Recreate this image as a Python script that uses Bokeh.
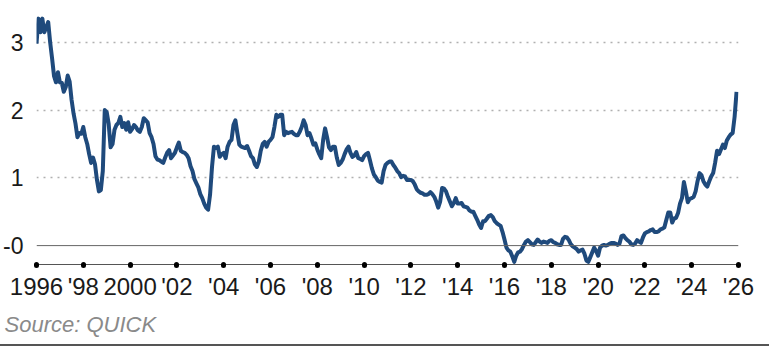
import pandas as pd
from bokeh.plotting import figure
from bokeh.models import Range1d, FixedTicker, Span, Title, Div
from bokeh.layouts import column
from bokeh.embed import file_html
from bokeh.resources import INLINE

# Monthly 10-year JGB yield (%), Jan 1996 - Dec 2025
y1996 = [2.98, 3.35, 3.15, 3.35, 3.15, 3.22, 3.30, 3.00, 2.76, 2.50, 2.41, 2.56]
y1997 = [2.41, 2.40, 2.27, 2.34, 2.51, 2.42, 2.15, 1.95, 1.80, 1.60, 1.66, 1.65]
y1998 = [1.75, 1.60, 1.50, 1.35, 1.22, 1.30, 1.20, 0.97, 0.80, 0.82, 1.10, 2.00]
y1999 = [1.97, 1.80, 1.45, 1.50, 1.71, 1.78, 1.81, 1.90, 1.75, 1.81, 1.71, 1.82]
y2000 = [1.68, 1.72, 1.78, 1.75, 1.70, 1.68, 1.75, 1.88, 1.85, 1.82, 1.66, 1.60]
y2001 = [1.50, 1.32, 1.27, 1.26, 1.24, 1.22, 1.30, 1.37, 1.41, 1.29, 1.33, 1.37]
y2002 = [1.45, 1.52, 1.40, 1.38, 1.37, 1.34, 1.29, 1.17, 1.10, 0.98, 0.92, 0.86]
y2003 = [0.76, 0.70, 0.62, 0.56, 0.53, 0.75, 1.16, 1.46, 1.44, 1.46, 1.31, 1.35]
y2004 = [1.37, 1.29, 1.46, 1.53, 1.56, 1.78, 1.85, 1.66, 1.49, 1.46, 1.45, 1.44]
y2005 = [1.47, 1.40, 1.32, 1.29, 1.20, 1.16, 1.24, 1.40, 1.50, 1.53, 1.46, 1.53]
y2006 = [1.56, 1.60, 1.75, 1.93, 1.90, 1.93, 1.93, 1.63, 1.68, 1.66, 1.67, 1.68]
y2007 = [1.65, 1.63, 1.63, 1.68, 1.75, 1.85, 1.78, 1.63, 1.66, 1.58, 1.49, 1.51]
y2008 = [1.42, 1.35, 1.29, 1.56, 1.73, 1.60, 1.45, 1.41, 1.46, 1.46, 1.30, 1.19]
y2009 = [1.22, 1.27, 1.35, 1.42, 1.46, 1.37, 1.31, 1.33, 1.38, 1.29, 1.28, 1.26]
y2010 = [1.32, 1.35, 1.37, 1.26, 1.14, 1.05, 1.01, 0.96, 0.94, 0.93, 1.10, 1.19]
y2011 = [1.22, 1.24, 1.24, 1.19, 1.15, 1.10, 1.07, 1.01, 1.03, 1.02, 0.97, 0.97]
y2012 = [0.97, 0.95, 0.90, 0.83, 0.80, 0.78, 0.77, 0.75, 0.75, 0.76, 0.79, 0.76]
y2013 = [0.72, 0.65, 0.56, 0.65, 0.85, 0.84, 0.80, 0.72, 0.65, 0.58, 0.63, 0.70]
y2014 = [0.62, 0.62, 0.63, 0.58, 0.57, 0.56, 0.52, 0.50, 0.50, 0.44, 0.38, 0.31]
y2015 = [0.26, 0.36, 0.36, 0.40, 0.44, 0.45, 0.42, 0.36, 0.33, 0.31, 0.29, 0.20]
y2016 = [0.09, -0.03, -0.07, -0.09, -0.16, -0.24, -0.15, -0.10, -0.09, -0.05, 0.01, 0.06]
y2017 = [0.08, 0.05, 0.02, 0.01, 0.05, 0.09, 0.06, 0.04, 0.06, 0.05, 0.04, 0.07]
y2018 = [0.08, 0.05, 0.04, 0.02, 0.01, 0.01, 0.10, 0.13, 0.12, 0.08, 0.02, -0.01]
y2019 = [-0.03, -0.05, -0.09, -0.07, -0.06, -0.12, -0.22, -0.24, -0.17, -0.10, -0.03, -0.08]
y2020 = [-0.15, -0.03, 0.00, 0.01, 0.00, 0.01, 0.03, 0.04, 0.04, 0.03, 0.01, 0.03]
y2021 = [0.14, 0.15, 0.11, 0.08, 0.06, 0.02, 0.01, 0.03, 0.08, 0.06, 0.04, 0.12]
y2022 = [0.18, 0.20, 0.21, 0.23, 0.24, 0.20, 0.20, 0.21, 0.24, 0.25, 0.27, 0.38]
y2023 = [0.49, 0.49, 0.34, 0.40, 0.41, 0.48, 0.62, 0.70, 0.94, 0.80, 0.64, 0.69]
y2024 = [0.70, 0.72, 0.80, 0.95, 1.07, 1.04, 0.95, 0.90, 0.87, 0.95, 1.02, 1.07]
y2025 = [1.22, 1.40, 1.35, 1.42, 1.49, 1.44, 1.55, 1.60, 1.64, 1.66, 1.90, 2.27]

START_MONTH = "1996-01-01"

tick_years = [1996, 1998, 2000, 2002, 2004, 2006, 2008, 2010, 2012, 2014,
              2016, 2018, 2020, 2022, 2024, 2026]
tick_labels = ["1996", "'98", "2000", "'02", "'04", "'06", "'08", "'10", "'12",
               "'14", "'16", "'18", "'20", "'22", "'24", "'26"]
y_ticks = [0, 1, 2, 3]
y_labels = ["-0", "1", "2", "3"]
source_text = "Source: QUICK"

yearly = [y1996, y1997, y1998, y1999, y2000, y2001, y2002, y2003, y2004, y2005,
          y2006, y2007, y2008, y2009, y2010, y2011, y2012, y2013, y2014, y2015,
          y2016, y2017, y2018, y2019, y2020, y2021, y2022, y2023, y2024, y2025]
values = [v for arr in yearly for v in arr]
dates = pd.date_range(START_MONTH, periods=len(values), freq="MS")
xs = list(dates.year + (dates.month - 1) / 12.0)

FONT = "Liberation Sans"
Y_START, Y_END = -0.279, 3.47

p = figure(width=769, height=344,
           x_range=Range1d(1996, 2026), y_range=Range1d(Y_START, Y_END),
           output_backend="svg", toolbar_location=None,
           min_border_left=34, min_border_right=31,
           min_border_top=10, min_border_bottom=79)
p.outline_line_color = None
p.background_fill_color = "white"
p.border_fill_color = "white"

p.xgrid.grid_line_color = None
p.ygrid.ticker = FixedTicker(ticks=[t for t in y_ticks if t != 0])
p.ygrid.grid_line_color = "#b0b0b0"
p.ygrid.grid_line_dash = "2 5"
p.ygrid.grid_line_width = 1.5

p.add_layout(Span(location=0, dimension="width", line_color="#666666", line_width=1))

p.line(xs, values, line_color="#1f4a7c", line_width=4, line_join="round")

xa = p.xaxis[0]
xa.ticker = FixedTicker(ticks=tick_years)
xa.major_label_overrides = dict(zip(tick_years, tick_labels))
xa.axis_line_color = "#555555"
xa.axis_line_width = 1
xa.major_tick_line_color = "black"
xa.major_tick_line_width = 5
xa.major_tick_line_cap = "round"
xa.major_tick_in = 0
xa.major_tick_out = 1
xa.minor_tick_line_color = None
xa.major_label_text_font = FONT
xa.major_label_text_font_size = "24px"
xa.major_label_text_color = "#1a1a1a"
xa.major_label_standoff = 7

ya = p.yaxis[0]
ya.ticker = FixedTicker(ticks=y_ticks)
ya.major_label_overrides = dict(zip(y_ticks, y_labels))
ya.axis_line_color = None
ya.major_tick_line_color = None
ya.minor_tick_line_color = None
ya.major_label_text_font = FONT
ya.major_label_text_font_size = "23px"
ya.major_label_text_color = "#1a1a1a"
ya.major_label_standoff = 7

src = Title(text=source_text, align="left", offset=-32, standoff=15,
            text_font=FONT, text_font_size="22px", text_font_style="italic",
            text_color="#8a8a8a")
p.add_layout(src, "below")

rule = Div(text="", width=769, height=2, margin=(0, 0, 0, 0),
           styles={"background-color": "#555555"})

layout = column(p, rule, spacing=0)
open("out.html", "w").write(file_html(layout, INLINE))
